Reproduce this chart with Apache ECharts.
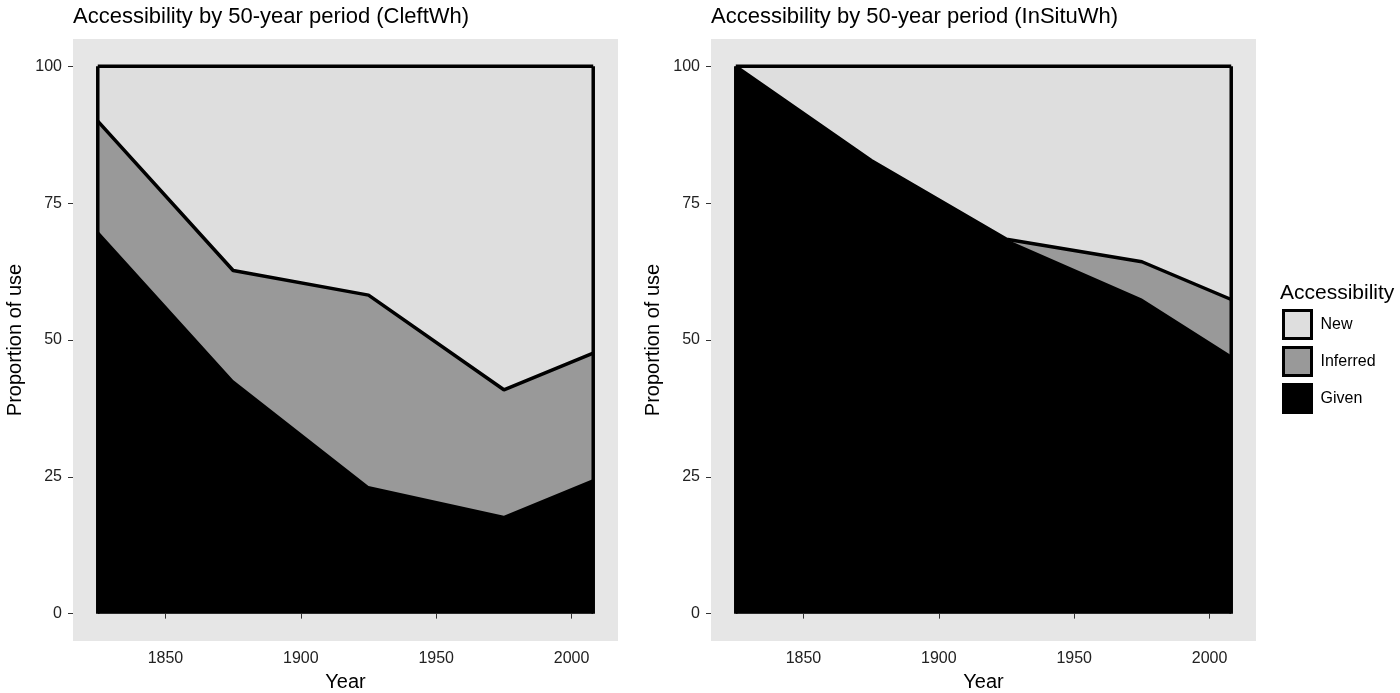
<!DOCTYPE html>
<html>
<head>
<meta charset="utf-8">
<script src="https://cdn.jsdelivr.net/npm/echarts@6/dist/echarts.min.js"></script>
<style>html,body{margin:0;padding:0;background:#fff;}#c{width:1400px;height:693px;}</style>
</head>
<body>
<div id="c"></div>
<script>
const years = [1825, 1875, 1925, 1975, 2008];
const xTicks = [1850, 1900, 1950, 2000];
const yTicks = [0, 25, 50, 75, 100];
const cleftGiven = [70, 42.7, 23.3, 17.9, 24.6];
const cleftInferred = [20, 20, 34.9, 23, 23];
const cleftNew = [10, 37.3, 41.8, 59.1, 52.4];
const insituGiven = [100, 82.8, 68.4, 57.6, 47.2];
const insituInferred = [0, 0, 0, 6.7, 10.2];
const insituNew = [0, 17.2, 31.6, 35.7, 42.6];
const titles = ['Accessibility by 50-year period (CleftWh)', 'Accessibility by 50-year period (InSituWh)'];
const categories = ['New', 'Inferred', 'Given'];
const fills = {New: '#dedede', Inferred: '#999999', Given: '#000000'};

const FONT = 'Liberation Sans, Arial, Helvetica, sans-serif';
const chart = echarts.init(document.getElementById('c'));
const pad = (years[years.length-1] - years[0]) * 0.05;

function pairs(vals){ return years.map((y,i)=>[y, vals[i]]); }

const grids = [
  {left: 73, top: 39, width: 545, height: 602, show: true, backgroundColor: '#e6e6e6', borderWidth: 0, outerBoundsMode: 'none', containLabel: false},
  {left: 711, top: 39, width: 545, height: 602, show: true, backgroundColor: '#e6e6e6', borderWidth: 0, outerBoundsMode: 'none', containLabel: false}
];
const xAxes = [0,1].map(i => ({
  type: 'value', gridIndex: i, min: years[0]-pad, max: years[years.length-1]+pad,
  name: 'Year', nameLocation: 'middle', nameGap: 31,
  nameTextStyle: {fontSize: 20, color: '#000', fontFamily: FONT},
  axisLine: {show: false}, splitLine: {show: false},
  axisTick: {show: true, length: 5, lineStyle: {color: '#333', width: 1}, customValues: xTicks},
  axisLabel: {fontSize: 16, color: '#222', fontFamily: FONT, margin: 10, customValues: xTicks,
    formatter: v => String(v)}
}));
const yAxes = [0,1].map(i => ({
  type: 'value', gridIndex: i, min: -5, max: 105,
  name: 'Proportion of use', nameLocation: 'middle', nameGap: 48,
  nameTextStyle: {fontSize: 20, color: '#000', fontFamily: FONT},
  axisLine: {show: false}, splitLine: {show: false},
  axisTick: {show: true, length: 5, lineStyle: {color: '#333', width: 1}, customValues: yTicks},
  axisLabel: {fontSize: 16, color: '#222', fontFamily: FONT, margin: 11, customValues: yTicks,
    formatter: v => String(v)}
}));

function panelSeries(idx, given, inferred, newv){
  // cumulative tops of the stacked layers
  const topGiven = given.slice();
  const topInferred = given.map((g,i)=>g+inferred[i]);
  const topNew = topInferred.map((t,i)=>t+newv[i]);
  const mk = (name, vals, z, lw) => ({
    name, type: 'line', xAxisIndex: idx, yAxisIndex: idx,
    data: pairs(vals), showSymbol: false, symbol: 'none', z,
    itemStyle: {color: fills[name]},
    lineStyle: {color: '#000', width: lw},
    areaStyle: {color: fills[name], opacity: 1, origin: 0},
    emphasis: {disabled: true}, animation: false, silent: true
  });
  const edge = (x, t) => ({
    type: 'line', xAxisIndex: idx, yAxisIndex: idx, data: [[x,0],[x,t]],
    showSymbol: false, symbol: 'none', z: 10, lineStyle: {color: '#000', width: 3.5},
    emphasis: {disabled: true}, animation: false, silent: true
  });
  return [
    mk('New', topNew, 2, 3.5),
    mk('Inferred', topInferred, 3, 3.5),
    mk('Given', topGiven, 4, 0),
    edge(years[0], topNew[0]),
    edge(years[years.length-1], topNew[topNew.length-1])
  ];
}

const tStyle = {fontSize: 22, fontWeight: 'normal', color: '#000', fontFamily: FONT};
chart.setOption({
  animation: false,
  title: [
    {text: titles[0], left: 68, top: 1, textStyle: tStyle},
    {text: titles[1], left: 706, top: 1, textStyle: tStyle},
    {text: 'Accessibility', left: 1275, top: 278, textStyle: {fontSize: 21, fontWeight: 'normal', color: '#000', fontFamily: FONT}}
  ],
  grid: grids,
  xAxis: xAxes,
  yAxis: yAxes,
  legend: {
    data: categories, orient: 'vertical', left: 1277, top: 304,
    icon: 'rect', itemWidth: 28, itemHeight: 28, itemGap: 6,
    itemStyle: {borderColor: '#000', borderWidth: 3},
    textStyle: {fontSize: 16, color: '#000', fontFamily: FONT, padding: [0,0,0,4]},
    selectedMode: false
  },
  series: [
    ...panelSeries(0, cleftGiven, cleftInferred, cleftNew),
    ...panelSeries(1, insituGiven, insituInferred, insituNew)
  ]
});
</script>
</body>
</html>
